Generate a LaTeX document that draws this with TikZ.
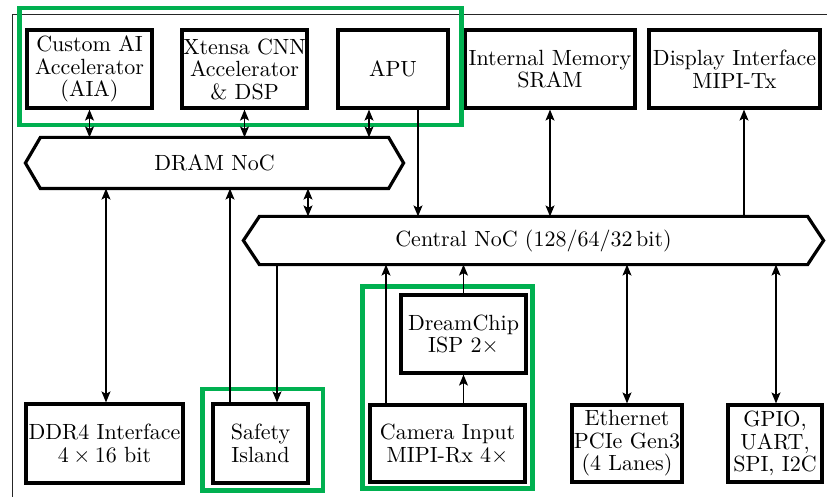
\documentclass[tikz,border=0pt]{standalone}
\usepackage{fontspec}
\setmainfont{lmroman10-regular.otf}
\usetikzlibrary{arrows.meta}
\definecolor{hlgreen}{RGB}{0,176,80}
\newcommand{\tms}{\kern0.2em×\kern0.2em}
\begin{document}
\begin{tikzpicture}[x=1pt,y=-1pt,
  font=\fontsize{22}{22.5}\selectfont,
  blk/.style={draw, line width=3.2pt, rectangle, align=center, inner sep=0pt, minimum height=78pt},
  noc/.style={rectangle, line width=3.2pt, inner sep=0pt},
  nocedge/.style={draw, line width=3.2pt, line join=miter},
  conn/.style={line width=1.3pt},
  tip/.style={conn, -{Stealth[length=11pt,width=9pt,inset=2.5pt]}},
  dtip/.style={conn, {Stealth[length=11pt,width=9pt,inset=2.5pt]}-{Stealth[length=11pt,width=9pt,inset=2.5pt]}},
  grp/.style={draw=hlgreen, line width=4.8pt}
]
\useasboundingbox (0,0) rectangle (827,497);

% outer frame of the chip
\draw[line width=1pt, black!85] (12,497) -- (12,15) -- (827,15);

% top row
\node[blk, minimum width=125pt] (aia) at (89.5,69) {Custom AI\\Accelerator\\(AIA)};
\node[blk, minimum width=125pt] (xt)  at (244.5,69) {Xtensa CNN\\Accelerator\\\& DSP};
\node[blk, minimum width=110pt] (apu) at (393,69) {APU};
\node[blk, minimum width=170pt] (sram) at (550,69) {Internal Memory\\SRAM};
\node[blk, minimum width=171pt] (disp) at (734.5,69) {Display Interface\\MIPI-Tx};

% networks on chip
\node[noc, minimum width=345pt, minimum height=48pt] (dram) at (214.5,163) {DRAM NoC};
\draw[nocedge] (dram.north west) -- (dram.north east) -- ([xshift=15pt]dram.east)
  -- (dram.south east) -- (dram.south west) -- ([xshift=-15pt]dram.west) -- cycle;
\node[noc, minimum width=545pt, minimum height=45pt] (cnoc) at (533.5,240.5) {Central NoC (128/64/32\,bit)};
\draw[nocedge] (cnoc.north west) -- (cnoc.north east) -- ([xshift=16pt]cnoc.east)
  -- (cnoc.south east) -- (cnoc.south west) -- ([xshift=-16pt]cnoc.west) -- cycle;

% bottom row
\node[blk, minimum width=157pt, minimum height=79pt] (ddr) at (104.5,443.5) {DDR4 Interface\\4\tms16 bit};
\node[blk, minimum width=95pt, minimum height=79pt] (safe) at (260.5,443.5) {Safety\\Island};
\node[blk, minimum width=155pt, minimum height=77pt] (cam) at (447.5,443.5) {Camera Input\\MIPI-Rx 4×};
\node[blk, minimum width=125pt] (isp) at (463.5,334) {DreamChip\\ISP 2×};
\node[blk, minimum width=110pt, minimum height=77pt] (eth) at (627,443.5) {Ethernet\\PCIe Gen3\\(4 Lanes)};
\node[blk, minimum width=94pt, minimum height=77pt] (gpio) at (775,443.5) {GPIO,\\UART,\\SPI, I2C};

% highlighted groups
\draw[grp] (19.5,8) rectangle (461.5,125);
\draw[grp] (202.5,389) rectangle (323,490.5);
\draw[grp] (362.5,286.5) rectangle (532.5,488.5);

% connections to the DRAM NoC
\draw[dtip] (aia.south) -- (aia.south |- dram.north);
\draw[dtip] (xt.south) -- (xt.south |- dram.north);
\draw[dtip] ([xshift=-24pt]apu.south) -- ([xshift=-24pt]apu.south |- dram.north);
\draw[dtip] ([xshift=1.5pt]ddr.north |- dram.south) -- ([xshift=1.5pt]ddr.north);
\draw[tip] ([xshift=-30.5pt]safe.north) -- ([xshift=-30.5pt]safe.north |- dram.south);
\draw[dtip] (308,0 |- dram.south) -- (308,0 |- cnoc.north);

% connections to the Central NoC
\draw[tip] ([xshift=25pt]apu.south) -- ([xshift=25pt]apu.south |- cnoc.north);
\draw[dtip] (sram.south) -- (sram.south |- cnoc.north);
\draw[tip] ([xshift=9.5pt]disp.south |- cnoc.north) -- ([xshift=9.5pt]disp.south);
\draw[tip] ([xshift=16.5pt]safe.north |- cnoc.south) -- ([xshift=16.5pt]safe.north);
\draw[tip] ([xshift=-61.5pt]cam.north) -- ([xshift=-61.5pt]cam.north |- cnoc.south);
\draw[tip] (isp.north) -- (isp.north |- cnoc.south);
\draw[tip] (isp.south |- cam.north) -- (isp.south);
\draw[dtip] (eth.north |- cnoc.south) -- (eth.north);
\draw[dtip] ([xshift=1pt]gpio.north |- cnoc.south) -- ([xshift=1pt]gpio.north);
\end{tikzpicture}
\end{document}
